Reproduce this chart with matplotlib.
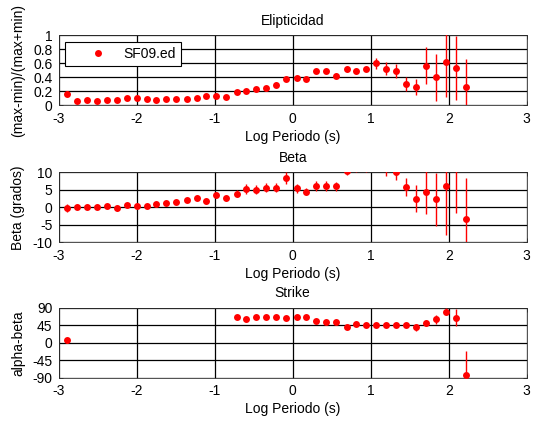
import numpy as np
import matplotlib
matplotlib.use("Agg")
import matplotlib.pyplot as plt
from matplotlib.lines import Line2D

plt.rcParams['font.family'] = ['Liberation Sans', 'DejaVu Sans']
plt.rcParams['font.size'] = 10
plt.rcParams['axes.unicode_minus'] = False

nan = np.nan

# log10 of period (s)
log_period = [-2.89, -2.76, -2.64, -2.51, -2.38, -2.25, -2.13, -2.00, -1.87, -1.75,
              -1.62, -1.49, -1.36, -1.23, -1.11, -0.98, -0.85, -0.72, -0.60, -0.47,
              -0.34, -0.21, -0.08, 0.05, 0.17, 0.30, 0.43, 0.56, 0.69, 0.81,
              0.94, 1.07, 1.20, 1.33, 1.45, 1.58, 1.71, 1.84, 1.97, 2.09, 2.22]

# ellipticity (max-min)/(max+min)
ellip = [0.166, 0.061, 0.085, 0.066, 0.085, 0.085, 0.109, 0.104, 0.095, 0.085,
         0.095, 0.095, 0.095, 0.109, 0.132, 0.142, 0.128, 0.194, 0.208, 0.236,
         0.250, 0.298, 0.378, 0.392, 0.383, 0.487, 0.496, 0.426, 0.525, 0.496,
         0.525, 0.605, 0.525, 0.496, 0.312, 0.265, 0.570, 0.400, 0.620, 0.535, 0.265]
ellip_err = [0.035, 0.015, 0.020, 0.015, 0.020, 0.015, 0.020, 0.020, 0.015, 0.015,
             0.015, 0.015, 0.015, 0.020, 0.020, 0.030, 0.025, 0.025, 0.025, 0.030,
             0.030, 0.035, 0.035, 0.025, 0.025, 0.025, 0.030, 0.040, 0.045, 0.040,
             0.035, 0.080, 0.090, 0.100, 0.100, 0.120, 0.270, 0.330, 0.500, 0.460, 0.400]

# beta (degrees)
beta = [-0.15, 0.2, 0.2, 0.1, 0.4, -0.2, 0.6, 0.5, 0.5, 0.87,
        1.15, 1.44, 2.0, 2.7, 1.8, 3.5, 2.6, 3.9, 5.2, 5.0,
        5.6, 5.6, 8.3, 5.4, 4.5, 6.1, 6.1, 6.0, 10.5, 12.5,
        13.0, 14.0, 12.0, 10.2, 5.7, 2.5, 4.5, 2.3, 6.1, 14.0, -3.3]
beta_err = [1.2, 0.6, 0.7, 0.7, 0.6, 0.9, 0.6, 0.5, 0.5, 0.5,
            0.5, 0.5, 0.6, 0.7, 0.9, 0.8, 0.8, 0.9, 1.4, 1.3,
            1.3, 1.3, 1.7, 1.2, 1.0, 1.4, 1.4, 1.3, 1.2, 2.4,
            2.9, 3.0, 3.15, 2.4, 2.6, 3.8, 6.5, 7.6, 13.9, 15.7, 11.6]

# strike, alpha-beta (degrees)
strike = [5.7, nan, nan, nan, nan, nan, nan, nan, nan, nan,
          nan, nan, nan, nan, nan, nan, nan, 66.5, 60.0, 66.5,
          66.5, 65.5, 62.4, 66.5, 66.5, 55.4, 52.0, 52.0, 40.5, 47.5,
          45.0, 45.0, 45.0, 45.0, 45.0, 40.0, 51.0, 60.0, 79.6, 64.0, -83.0]
strike_err = [6.0, nan, nan, nan, nan, nan, nan, nan, nan, nan,
              nan, nan, nan, nan, nan, nan, nan, 4.0, 6.0, 5.0,
              4.0, 4.0, 5.0, 4.0, 4.0, 3.0, 3.0, 3.0, 3.0, 4.0,
              3.0, 3.0, 3.0, 3.0, 3.0, 8.7, 7.8, 11.0, 9.0, 22.0, 61.0]

station = 'SF09.ed'
xticks = [-3, -2, -1, 0, 1, 2, 3]
panels = [
    ('Elipticidad', '(max-min)/(max+min)', ellip, ellip_err, (0, 1),
     [0, 0.2, 0.4, 0.6, 0.8, 1], ['0', '0.2', '0.4', '0.6', '0.8', '1']),
    ('Beta', 'Beta (grados)', beta, beta_err, (-10, 10),
     [-10, -5, 0, 5, 10], ['-10', '-5', '0', '5', '10']),
    ('Strike', 'alpha-beta', strike, strike_err, (-90, 90),
     [-90, -45, 0, 45, 90], ['-90', '-45', '0', '45', '90']),
]

fig = plt.figure(figsize=(5.37, 4.23), dpi=100)
W, H = 537.0, 423.0
left_px, width_px = 58.7, 468.0
tops_px = [35.5, 172.3, 307.7]
height_px = 70.0

red = (1.0, 0.0, 0.0)
axes = []
for (title, ylabel, vals, errs, ylim, yt, ytl), top in zip(panels, tops_px):
    ax = fig.add_axes([left_px / W, 1 - (top + height_px) / H, width_px / W, height_px / H])
    axes.append(ax)
    ax.errorbar(log_period, vals, yerr=errs, fmt='o', color=red, ecolor=red,
                markersize=5, elinewidth=1.0, capsize=3.6, capthick=1.0,
                markeredgewidth=0, zorder=3)
    ax.set_xlim(-3, 3)
    ax.set_ylim(*ylim)
    ax.set_xticks(xticks)
    ax.set_xticklabels([str(t) for t in xticks])
    ax.set_yticks(yt)
    ax.set_yticklabels(ytl)
    ax.grid(True, color='black', linewidth=0.9, linestyle='-')
    ax.set_axisbelow(True)
    ax.tick_params(direction='in', length=3, width=0.6, top=True, right=True,
                   labelsize=10, pad=4.5, color='black')
    for s in ax.spines.values():
        s.set_linewidth(0.6)
        s.set_color('#333333')
    ax.set_title(title, fontsize=10, pad=7.5)
    ax.set_xlabel('Log Periodo (s)', fontsize=10, labelpad=3)
    ax.set_ylabel(ylabel, fontsize=10)
    ax.yaxis.set_label_coords(-0.072, 0.5)

handle = Line2D([], [], linestyle='none', marker='o', color=red,
                markersize=5, markeredgewidth=0)
leg = axes[0].legend([handle], [station], loc='upper left',
                     bbox_to_anchor=(0.0135, 0.904), borderaxespad=0,
                     frameon=True, fancybox=False, framealpha=1,
                     edgecolor='black', handlelength=4.1, handletextpad=-0.25,
                     borderpad=0.35, fontsize=10)
leg.get_frame().set_linewidth(0.8)
leg.set_zorder(5)

fig.savefig('out.png', dpi=100, facecolor='white')
